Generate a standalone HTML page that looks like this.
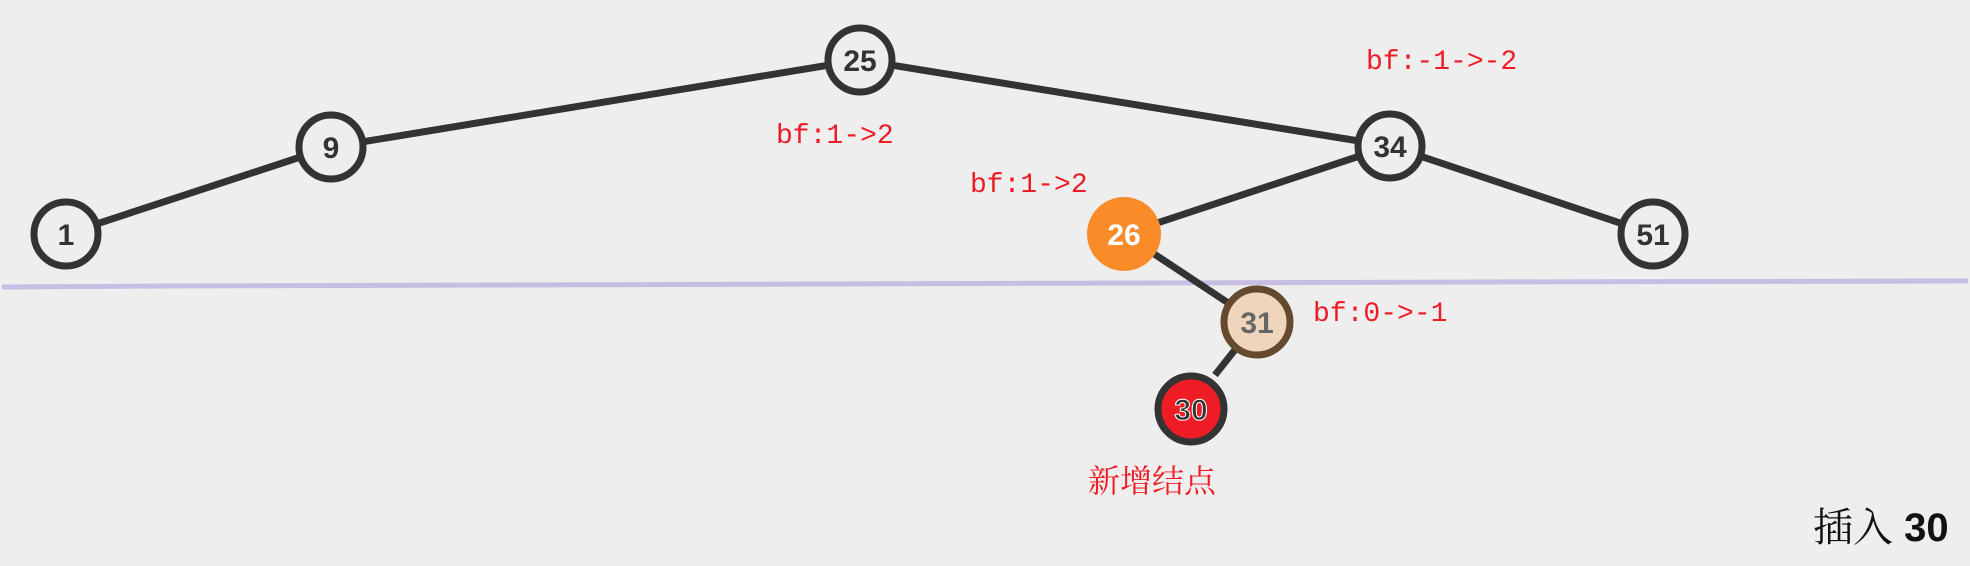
<!DOCTYPE html>
<html><head><meta charset="utf-8"><style>
html,body{margin:0;padding:0;background:#eeeeee;}
svg{display:block;}
</style></head><body>
<svg width="1970" height="566" viewBox="0 0 1970 566" xmlns="http://www.w3.org/2000/svg">
<rect width="1970" height="566" fill="#eeeeee"/>
<polyline points="2,287 165,286 495,285 825,284 1475,282 1968,281" fill="none" stroke="#c7bfe3" stroke-width="5"/>
<g stroke="#333" stroke-width="7" fill="none">
<line x1="66" y1="234" x2="331" y2="147"/>
<line x1="331" y1="147" x2="860" y2="60"/>
<line x1="860" y1="60" x2="1390" y2="146"/>
<line x1="1390" y1="146" x2="1124" y2="234"/>
<line x1="1390" y1="146" x2="1653" y2="234"/>
<line x1="1124" y1="234" x2="1257" y2="322"/>
<line x1="1257" y1="322" x2="1215" y2="375"/>
</g>
<g stroke="#333" stroke-width="7" fill="#eeeeee">
<circle cx="66" cy="234" r="32"/>
<circle cx="331" cy="147" r="32"/>
<circle cx="860" cy="60" r="32"/>
<circle cx="1390" cy="146" r="32"/>
<circle cx="1653" cy="234" r="32"/>
</g>
<circle cx="1124" cy="234" r="37" fill="#f98b28"/>
<circle cx="1257" cy="322" r="33" fill="#f0d5bd" stroke="#654a30" stroke-width="7"/>
<circle cx="1191" cy="409" r="33" fill="#ee1c24" stroke="#333" stroke-width="7"/>
<g font-family="Liberation Sans, sans-serif" font-weight="bold" font-size="30" text-anchor="middle" fill="#333">
<text x="66" y="245">1</text>
<text x="331" y="158">9</text>
<text x="860" y="71">25</text>
<text x="1390" y="157">34</text>
<text x="1653" y="245">51</text>
<text x="1124" y="245" fill="#fff">26</text>
<text x="1257" y="333" fill="#666">31</text>
<text x="1191" y="420" fill="#333" stroke="#fff" stroke-width="1">30</text>
</g>
<g font-family="Liberation Mono, monospace" font-size="28" fill="#ee1c24">
<text x="776" y="143">bf:1-&gt;2</text>
<text x="1366" y="69">bf:-1-&gt;-2</text>
<text x="970" y="192">bf:1-&gt;2</text>
<text x="1313" y="321">bf:0-&gt;-1</text>
</g>
<text x="1088" y="492" font-family="Liberation Sans, Noto Serif CJK SC, serif" font-size="32" fill="#ee1c24">新增结点</text>
<text x="1813" y="541" font-family="Liberation Sans, Noto Serif CJK SC, sans-serif" font-size="40" fill="#111">插入 <tspan font-weight="bold">30</tspan></text>
</svg>
</body></html>
